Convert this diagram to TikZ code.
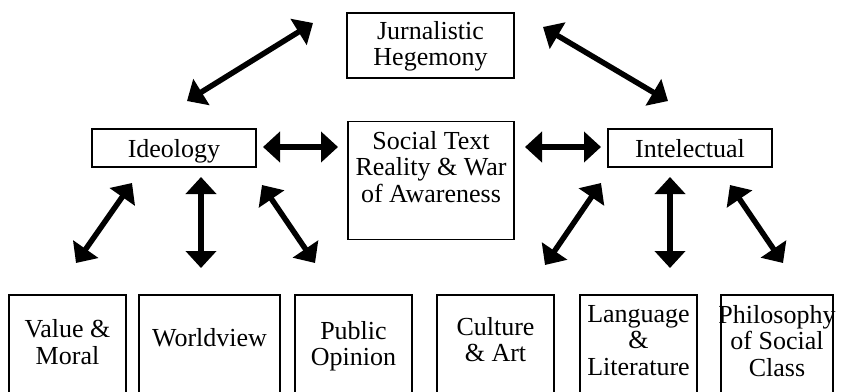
\documentclass[tikz,border=0pt]{standalone}
\usepackage{fontspec}
\setmainfont{Liberation Serif}
\usetikzlibrary{arrows.meta}
\begin{document}
\begin{tikzpicture}[x=1pt,y=-1pt,
  box/.style={draw,line width=1.6pt,inner sep=0pt},
  txt/.style={align=center,inner sep=0pt,anchor=north,font=\fontsize{26}{26.5}\selectfont},
  dbl/.style={line width=5.5pt,{Triangle[length=17pt,width=30pt]}-{Triangle[length=17pt,width=30pt]}}]
\useasboundingbox (0,0) rectangle (843,391);
\clip (0,0) rectangle (843,391);
% top boxes
\node[box,minimum width=167pt,minimum height=65pt] (jh) at (430.5,45.5) {};
\node[txt] (jt) at (430.5,21) {Jurnalistic\\Hegemony};
\node[box,minimum width=164pt,minimum height=38pt] (id) at (174,148) {};
\node[txt] (idt) at (174,139) {Ideology};
\node[box,minimum width=164pt,minimum height=38pt] (in) at (690,148) {};
\node[txt] (int) at (690,139) {Intelectual};
\node[box,minimum width=166pt,minimum height=118pt] (sb) at (431,180.5) {};
\node[txt] (st) at (431,131) {Social Text\\Reality \& War\\of Awareness};
% bottom boxes
\node[box,minimum width=117pt,minimum height=110pt] (b1) at (67.5,350) {};
\node[box,minimum width=141pt,minimum height=110pt] (b2) at (209.5,350) {};
\node[box,minimum width=117pt,minimum height=110pt] (b3) at (353.5,350) {};
\node[box,minimum width=117pt,minimum height=110pt] (b4) at (495.5,350) {};
\node[box,minimum width=117pt,minimum height=110pt] (b5) at (638.5,350) {};
\node[box,minimum width=112pt,minimum height=110pt] (b6) at (777,350) {};
\node[txt] (t1) at (67.5,319.5) {Value \&\\Moral};
\node[txt] (t2) at (209.5,328) {Worldview};
\node[txt] (t3) at (353.5,321) {Public\\Opinion};
\node[txt] (t4) at (495.5,317) {Culture\\\& Art};
\node[txt] (t5) at (638.5,305) {Language\\\&\\Literature};
\node[txt] (t6) at (777,305) {Philosophy\\of Social\\Class};
% arrow end points
\coordinate (a1s) at (187,101); \coordinate (a1e) at (313,23);
\coordinate (a2s) at (543,27);  \coordinate (a2e) at (668,101);
\coordinate (a3s) at (263,147); \coordinate (a3e) at (338,147);
\coordinate (a4s) at (525,147); \coordinate (a4e) at (601,147);
\coordinate (l1s) at (76,263);  \coordinate (l1e) at (132,183);
\coordinate (l2s) at (201,177); \coordinate (l2e) at (201,268);
\coordinate (l3s) at (262,185); \coordinate (l3e) at (315,263);
\coordinate (r1s) at (545,265); \coordinate (r1e) at (601,183);
\coordinate (r2s) at (670,177); \coordinate (r2e) at (670,268);
\coordinate (r3s) at (730,185); \coordinate (r3e) at (783,263);
\draw[dbl] (a1s) -- (a1e);
\draw[dbl] (a2s) -- (a2e);
\draw[dbl] (a3s) -- (a3e);
\draw[dbl] (a4s) -- (a4e);
\draw[dbl] (l1s) -- (l1e);
\draw[dbl] (l2s) -- (l2e);
\draw[dbl] (l3s) -- (l3e);
\draw[dbl] (r1s) -- (r1e);
\draw[dbl] (r2s) -- (r2e);
\draw[dbl] (r3s) -- (r3e);
\end{tikzpicture}
\end{document}
